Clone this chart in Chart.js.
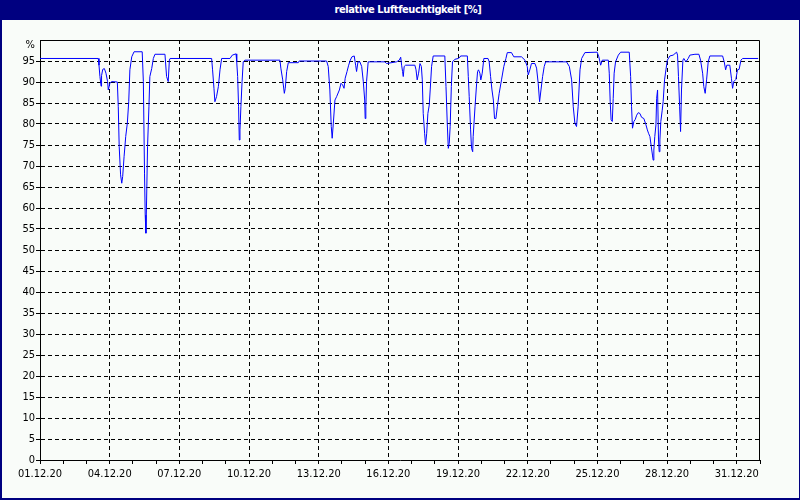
<!DOCTYPE html>
<html>
<head>
<meta charset="utf-8">
<script src="https://cdn.jsdelivr.net/npm/chart.js@4/dist/chart.umd.min.js"></script>
<style>
  html, body { margin: 0; padding: 0; background: #ffffff; }
  #frame { position: absolute; left: 0; top: 0; width: 797px; height: 498px;
           border-left: 2px solid #000080; border-right: 1px solid #000080; border-bottom: 2px solid #000080;
           background: #f9fcf9; overflow: hidden; }
  #titlebar { position: absolute; left: 0; top: 0; width: 800px; height: 20px; background: #000080; z-index: 2; }
  #titletext { position: absolute; left: 408px; top: 0; transform: translateX(-50%); white-space: nowrap;
               color: #ffffff; font: bold 11px "Liberation Sans Narrow", "DejaVu Sans Condensed", sans-serif;
               letter-spacing: -0.4px; line-height: 19px; }
  #pct { position: absolute; right: 765px; top: 38px; z-index: 3;
         font: 11px "Liberation Sans Narrow", "DejaVu Sans Condensed", sans-serif; color: #000; }
  #c { position: absolute; left: 0; top: 0; z-index: 1; }
</style>
</head>
<body>
<div id="frame"></div>
<canvas id="c" width="800" height="500"></canvas>
<div id="titlebar"><span id="titletext">relative Luftfeuchtigkeit [%]</span></div>
<div id="pct">%</div>
<script>
// ---- data (x = days since 01.12.20 00:00, y = relative humidity in %) ----
const days = [0, 2.51, 2.54, 2.58, 2.63, 2.65, 2.70, 2.77, 2.84, 2.91, 2.94, 3.01, 3.08, 3.33, 3.37, 3.41, 3.47, 3.52, 3.56, 3.62, 3.69, 3.76, 3.82, 3.87, 3.95, 4.05, 4.40, 4.45, 4.50, 4.53, 4.56, 4.59, 4.63, 4.69, 4.73, 4.81, 4.88, 4.95, 5.38, 5.45, 5.52, 5.57, 5.60, 7.39,
  7.43, 7.49, 7.53, 7.60, 7.68, 7.75, 7.82, 8.18, 8.28, 8.44, 8.47, 8.51, 8.55, 8.58, 8.61, 8.65, 8.70, 8.75, 8.82, 10.33, 10.37, 10.45, 10.52, 10.56, 10.62, 10.69, 11.12, 11.16, 12.34, 12.41, 12.48, 12.54, 12.58, 12.63, 12.70, 12.77, 12.89, 12.96, 13.03, 13.09, 13.14, 13.22, 13.29, 13.36, 13.43, 13.53, 13.59, 13.63, 13.69, 13.77, 13.85, 13.92, 13.98, 14.00, 14.03, 14.06, 14.13, 14.85, 14.92, 15.35, 15.47,
  15.53, 15.57, 15.61, 15.64, 15.68, 15.74, 16.14, 16.19, 16.24, 16.30, 16.36, 16.42, 16.46, 16.50, 16.56, 16.60, 16.65, 16.70, 16.76, 16.80, 16.86, 16.93, 17.43, 17.48, 17.535, 17.58, 17.62, 17.66, 17.71, 17.76, 17.86, 18.01, 18.08, 18.11, 18.40, 18.44, 18.48, 18.54, 18.58, 18.63, 18.65, 18.73, 18.80, 18.84, 18.88, 18.94, 18.98, 19.04, 19.11, 19.29, 19.34, 19.40, 19.46, 19.52, 19.57, 19.63, 19.69, 19.77, 19.87, 19.97, 20.06, 20.12, 20.30, 20.40, 20.73, 20.88, 20.98, 21.02, 21.09, 21.16, 21.31, 21.38, 21.45, 21.51, 21.57, 21.64, 21.71, 21.77, 22.67, 22.79, 22.89, 22.96, 23.03, 23.10, 23.17, 23.25, 23.32, 23.46,
  23.99, 24.06, 24.14, 24.21, 24.47, 24.51, 24.55, 24.59, 24.64, 24.68, 24.72, 24.78, 24.90, 25.00, 25.37, 25.43, 25.47, 25.51, 25.57, 25.63, 25.69, 25.76, 25.83, 25.90, 26.00, 26.09, 26.15, 26.20, 26.26, 26.32, 26.37, 26.40, 26.43, 26.47, 26.52, 26.55, 26.59, 26.63, 26.66, 26.69, 26.73, 26.79, 26.83, 26.89, 26.95, 27.01, 27.12, 27.26, 27.41, 27.45, 27.49, 27.54, 27.58, 27.62, 27.68, 27.72, 27.81, 27.91, 27.98, 28.20, 28.37, 28.44, 28.53, 28.58, 28.64, 28.70, 28.77, 28.84, 29.39, 29.46, 29.52, 29.57, 29.70, 29.77, 29.82, 29.87, 29.96, 30.03, 30.10, 30.18, 30.25, 30.92];
const humidity = [95.6, 95.6, 94.0, 91.3, 89.0, 91.5, 93.0, 93.2, 92.1, 90.1, 88.1, 89.7, 90.1, 90.0, 84.1, 74.6, 67.9, 65.9, 67.5, 72.2, 77.0, 80.2, 85.3, 92.9, 96.0, 97.2, 97.2, 90.1, 68.3, 58.3, 54.0, 61.9, 74.6, 84.1, 91.3, 93.2, 95.6, 96.6, 96.6, 91.3, 90.1, 95.2, 95.6, 95.6,
  92.9, 88.5, 85.3, 86.5, 88.9, 92.9, 95.6, 95.6, 96.4, 96.7, 94.8, 91.3, 84.1, 76.2, 78.6, 84.1, 90.1, 94.8, 95.2, 95.2, 93.3, 90.5, 87.3, 88.5, 92.5, 94.6, 94.6, 95.0, 95.0, 93.7, 88.1, 79.4, 76.6, 80.2, 85.7, 86.5, 88.1, 89.7, 89.3, 88.5, 90.9, 92.5, 94.0, 95.2, 96.0, 96.2, 94.0, 92.5, 94.8, 94.8, 93.7, 90.1, 85.7, 81.3, 84.1, 90.1, 94.8, 94.8, 94.4, 94.8, 95.2,
  95.9, 94.0, 92.5, 91.3, 93.7, 94.0, 94.0, 92.9, 90.5, 92.1, 94.4, 93.7, 90.5, 82.5, 77.8, 75.0, 77.8, 82.5, 84.5, 88.1, 93.7, 96.2, 96.2, 88.9, 80.2, 74.2, 75.4, 79.4, 88.9, 94.8, 95.4, 95.6, 95.9, 96.2, 96.2, 91.3, 86.5, 78.6, 74.2, 73.4, 77.0, 84.1, 89.7, 92.5, 92.9, 92.1, 90.5, 92.1, 95.6, 95.6, 94.8, 91.3, 88.1, 85.7, 81.3, 81.3, 84.1, 87.3, 90.5, 93.7, 95.6, 97.0, 97.0, 96.0, 96.0, 95.2, 93.7, 91.7, 92.9, 94.4, 94.4, 93.3, 89.7, 85.3, 88.1, 91.3, 93.7, 94.8, 94.8, 93.7, 90.5, 84.1, 80.2, 79.4, 84.1, 92.9, 95.6, 97.0,
  97.1, 96.0, 94.0, 95.2, 95.2, 92.1, 85.3, 81.0, 80.6, 86.1, 92.1, 94.8, 96.4, 97.1, 97.1, 91.3, 84.1, 79.0, 80.6, 81.1, 82.1, 82.7, 82.5, 81.6, 81.3, 79.8, 78.6, 77.8, 77.0, 74.6, 72.6, 71.4, 73.8, 77.0, 79.8, 86.1, 88.1, 76.2, 73.4, 76.2, 80.6, 83.3, 85.3, 90.5, 92.9, 95.2, 96.2, 96.4, 97.1, 96.4, 91.3, 84.1, 78.2, 88.1, 95.2, 95.6, 94.8, 95.6, 96.4, 96.6, 96.6, 95.2, 92.1, 88.9, 87.3, 90.5, 94.8, 96.2, 96.2, 94.8, 92.9, 94.0, 94.0, 90.9, 88.5, 90.1, 90.6, 92.9, 93.0, 95.2, 95.6, 95.6];

// labelled x ticks (every 3rd day) and y axis range
const xLabelDays = [0, 3, 6, 9, 12, 15, 18, 21, 24, 27, 30];
const xLabels = ['01.12.20', '04.12.20', '07.12.20', '10.12.20', '13.12.20', '16.12.20', '19.12.20', '22.12.20', '25.12.20', '28.12.20', '31.12.20'];
const yMin = 0, yMax = 100, yStep = 5;
const xMin = 0, xMax = 31;

const points = days.map((d, i) => ({ x: d, y: humidity[i] }));
const FONT = '"Liberation Sans Narrow", "DejaVu Sans Condensed", sans-serif';

const boxPlugin = {
  id: 'box',
  afterDatasetsDraw(chart) {
    const { ctx, chartArea: a } = chart;
    ctx.save();
    ctx.strokeStyle = '#000';
    ctx.lineWidth = 1;
    ctx.beginPath();
    ctx.moveTo(Math.round(a.left) + 0.5, Math.round(a.top) + 0.5);
    ctx.lineTo(Math.round(a.right) - 0.5, Math.round(a.top) + 0.5);
    ctx.lineTo(Math.round(a.right) - 0.5, Math.round(a.bottom) + 0.5);
    ctx.stroke();
    ctx.restore();
  }
};

new Chart(document.getElementById('c'), {
  type: 'line',
  data: {
    datasets: [{
      data: points,
      borderColor: '#0000ff',
      borderWidth: 1,
      pointRadius: 0,
      tension: 0,
      fill: false
    }]
  },
  options: {
    responsive: false,
    animation: false,
    parsing: false,
    layout: { padding: { left: 0, top: 40, right: 40, bottom: 0 } },
    plugins: { legend: { display: false }, tooltip: { enabled: false }, title: { display: false } },
    scales: {
      x: {
        type: 'linear', min: xMin, max: xMax,
        afterFit(s) { s.height = 40; },
        afterBuildTicks(s) {
          const t = [];
          for (let v = xMin; v <= xMax; v++) t.push({ value: v });
          s.ticks = t;
        },
        ticks: {
          autoSkip: false, maxRotation: 0, minRotation: 0, padding: 4, color: '#000',
          font: { family: FONT, size: 11 },
          callback(v) { const i = xLabelDays.indexOf(v); return i >= 0 ? xLabels[i] : ''; }
        },
        grid: {
          drawOnChartArea: true, drawTicks: true, tickLength: 4, tickColor: '#000', lineWidth: 1,
          color(c) { const v = c.tick ? c.tick.value : -1; return (v % 3 === 0 && v > xMin && v < xMax) ? '#000' : 'rgba(0,0,0,0)'; }
        },
        border: { display: true, color: '#000', width: 1, dash: [4, 3] }
      },
      y: {
        type: 'linear', min: yMin, max: yMax,
        afterFit(s) { s.width = 40; },
        afterBuildTicks(s) {
          const t = [];
          for (let v = yMin; v < yMax; v += yStep) t.push({ value: v });
          s.ticks = t;
        },
        ticks: {
          padding: 1, color: '#000', font: { family: FONT, size: 11 },
          callback(v) { return String(v); }
        },
        grid: {
          drawTicks: true, tickLength: 4, tickColor: '#000', lineWidth: 1,
          color(c) { const v = c.tick ? c.tick.value : -1; return (v > yMin && v < yMax) ? '#000' : 'rgba(0,0,0,0)'; }
        },
        border: { display: true, color: '#000', width: 1, dash: [4, 3] }
      }
    }
  },
  plugins: [boxPlugin]
});
</script>
</body>
</html>
